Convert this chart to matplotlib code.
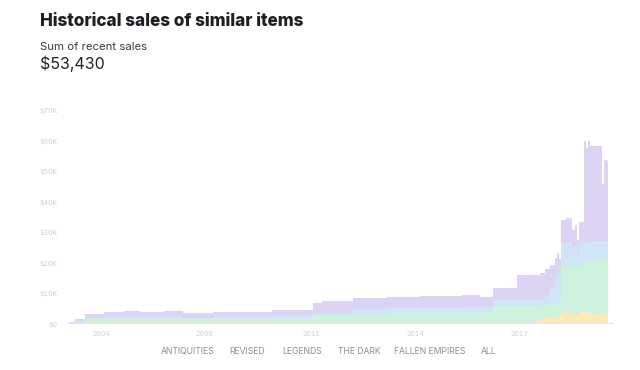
import numpy as np
import matplotlib.pyplot as plt

# dates as decimal years, values in $K (cumulative tops)
dates = [2003.47, 2003.67, 2003.99, 2004.60, 2005.24, 2005.75, 2006.52, 2007.13,
         2008.09, 2009.98, 2011.29, 2011.58, 2012.58, 2013.67, 2014.72, 2016.07,
         2016.65, 2017.06, 2017.83, 2018.57, 2018.73, 2018.89, 2019.05, 2019.12,
         2019.18, 2019.24, 2019.40, 2019.60, 2019.69, 2019.76, 2019.82, 2019.98,
         2020.05, 2020.11, 2020.17, 2020.35, 2020.56, 2020.60, 2020.70, 2020.75]
top_yellow = [0.2, 0.3, 0.5, 0.5, 0.5, 0.5, 0.5, 0.5,
              0.5, 0.5, 0.5, 0.5, 0.5, 0.5, 0.5, 0.6,
              0.8, 0.8, 0.8, 1.5, 2.0, 2.4, 2.4, 2.4,
              2.4, 3.6, 3.6, 3.0, 2.8, 2.5, 3.8, 3.9,
              3.9, 3.6, 3.2, 2.8, 2.7, 3.0, 3.5, 3.5]
top_green = [0.4, 0.8, 1.5, 1.6, 1.8, 1.7, 1.8, 1.5,
             1.7, 1.8, 2.8, 3.0, 3.0, 3.5, 3.6, 3.7,
             4.0, 5.9, 5.9, 6.2, 6.5, 6.8, 6.9, 6.9,
             6.9, 19.1, 19.3, 19.0, 19.3, 18.5, 19.5, 20.0,
             20.0, 20.2, 20.5, 21.0, 21.2, 21.5, 21.7, 21.7]
top_blue = [0.5, 1.0, 2.0, 2.2, 2.4, 2.3, 2.4, 2.0,
            2.3, 2.5, 3.4, 3.7, 4.9, 5.2, 5.3, 5.7,
            5.7, 7.9, 7.9, 8.0, 9.5, 12.0, 15.5, 17.0,
            16.0, 26.6, 26.8, 24.5, 26.0, 23.0, 26.5, 27.0,
            27.0, 27.0, 27.0, 27.2, 27.2, 27.3, 27.0, 27.0]
top_purple = [0.6, 1.6, 3.3, 3.9, 4.3, 4.0, 4.4, 3.6,
              4.0, 4.6, 6.9, 7.6, 8.5, 9.0, 9.2, 9.5,
              8.9, 11.8, 16.1, 16.8, 18.0, 19.5, 21.7, 23.4,
              21.5, 34.2, 34.9, 31.0, 32.5, 27.6, 33.5, 60.2,
              58.0, 60.0, 58.6, 58.4, 46.0, 54.0, 53.5, 53.5]

tick_pos = [2004.5, 2007.83, 2011.23, 2014.56, 2017.9]
tick_labels = ["2004", "2008", "2011", "2014", "2017"]
y_ticks = [0, 10, 20, 30, 40, 50, 60, 70]
y_labels = ["$0", "$10K", "$20K", "$30K", "$40K", "$50K", "$60K", "$70K"]
sets = ["ANTIQUITIES", "REVISED", "LEGENDS", "THE DARK", "FALLEN EMPIRES", "ALL"]
set_x = [188, 247, 302, 359, 430, 489]

colors = ["#fdeab6", "#cdf2de", "#d2e4f8", "#ddd4f3"]

fig = plt.figure(figsize=(6.4, 3.7), dpi=100)
ax = fig.add_axes([66 / 640, 46 / 370, 550 / 640, 213 / 370])

x = np.array(dates)
tops = [np.array(top_yellow), np.array(top_green), np.array(top_blue), np.array(top_purple)]
lower = np.zeros_like(x)
for t, c in zip(tops, colors):
    ax.fill_between(x, lower, t, step="post", color=c, linewidth=0)
    lower = t

# thin baseline under the areas
ax.plot([2003.44, 2020.93], [0, 0], color="#e4e1f6", linewidth=1.6, solid_capstyle="butt")

ax.set_xlim(2003.38, 2021.0)
ax.set_ylim(0, 70)
ax.set_xticks(tick_pos)
ax.set_xticklabels(tick_labels)
ax.set_yticks(y_ticks)
ax.set_yticklabels(y_labels)
ax.tick_params(length=0, labelsize=5, labelcolor="#cfcfd3")
ax.tick_params(axis="x", pad=5)
ax.tick_params(axis="y", pad=6)
for s in ax.spines.values():
    s.set_visible(False)

fig.text(40 / 640, 1 - 22 / 370, "Historical sales of similar items", fontsize=12.3,
         fontweight="heavy", family="Inter", color="#1e1e24", va="center")
fig.text(40 / 640, 1 - 47 / 370, "Sum of recent sales", fontsize=8.2,
         family="Inter", color="#3a3a40", va="center")
fig.text(40 / 640, 1 - 64 / 370, "$53,430", fontsize=11.5,
         family="Inter", color="#222228", va="center")

for name, px in zip(sets, set_x):
    fig.text(px / 640, 1 - 351 / 370, name, fontsize=6.2, family="Inter",
             color="#8c8c98", ha="center", va="center")

fig.savefig("out.png", dpi=100)
